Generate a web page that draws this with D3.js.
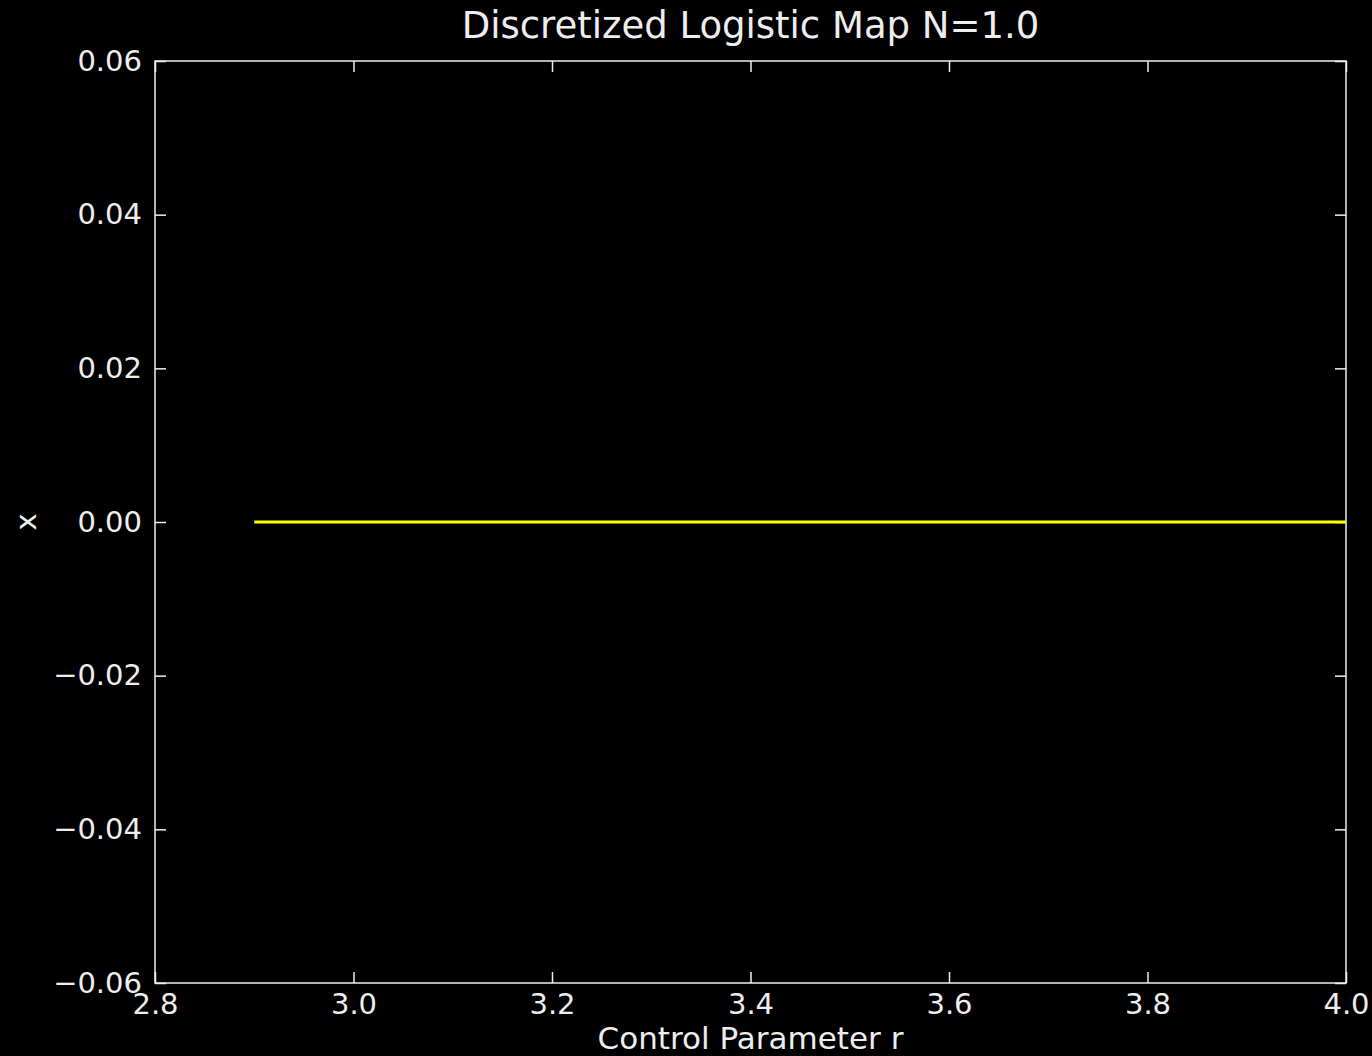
<!DOCTYPE html>
<html lang="en">
<head>
	<meta charset="UTF-8">
	<title>Discretized Logistic Map</title>
	<script type="text/javascript" src="https://d3js.org/d3.v7.min.js"></script>
	<style>
		html, body { margin: 0; padding: 0; background: #000; }
		svg { display: block; }
		text { font-family: "DejaVu Sans", sans-serif; fill: #eee; }
	</style>
</head>
<body>
	<svg></svg>

	<script type="text/javascript">
		var width = 1372;
		var height = 1056;

		// control parameter r and the settled x values (all collapse to 0)
		var rValues = [2.9, 3.0, 3.2, 3.4, 3.6, 3.8, 4.0];
		var xValues = [0, 0, 0, 0, 0, 0, 0];
		var xTicks = [2.8, 3.0, 3.2, 3.4, 3.6, 3.8, 4.0];
		var yTicks = [-0.06, -0.04, -0.02, 0.00, 0.02, 0.04, 0.06];

		var margin = {left: 155, right: 26, top: 61, bottom: 73};
		var svg = d3.select("svg").attr("width", width).attr("height", height);

		var scaleX = d3.scaleLinear().domain([2.8, 4.0]).range([margin.left, width - margin.right]);
		var scaleY = d3.scaleLinear().domain([-0.06, 0.06]).range([height - margin.bottom, margin.top]);

		function fmtY(d) {
			return d3.format(".2f")(d).replace("-", "\u2212");
		}

		// frame
		svg.append("rect")
			.attr("x", scaleX(2.8))
			.attr("y", scaleY(0.06))
			.attr("width", scaleX(4.0) - scaleX(2.8))
			.attr("height", scaleY(-0.06) - scaleY(0.06))
			.attr("fill", "none")
			.attr("stroke", "#eee")
			.attr("stroke-width", 1.5);

		var tickLen = 11;
		var axes = [
			d3.axisBottom(scaleX).tickValues(xTicks).tickFormat(d3.format(".1f")).tickSizeInner(-tickLen).tickSizeOuter(0).tickPadding(10),
			d3.axisTop(scaleX).tickValues(xTicks).tickFormat("").tickSizeInner(-tickLen).tickSizeOuter(0),
			d3.axisLeft(scaleY).tickValues(yTicks).tickFormat(fmtY).tickSizeInner(-tickLen).tickSizeOuter(0).tickPadding(13),
			d3.axisRight(scaleY).tickValues(yTicks).tickFormat("").tickSizeInner(-tickLen).tickSizeOuter(0)
		];
		var shifts = [
			"translate(0," + scaleY(-0.06) + ")",
			"translate(0," + scaleY(0.06) + ")",
			"translate(" + scaleX(2.8) + ",0)",
			"translate(" + scaleX(4.0) + ",0)"
		];
		axes.forEach(function(ax, i) {
			var g = svg.append("g").attr("transform", shifts[i]).call(ax);
			g.select(".domain").remove();
			g.selectAll(".tick line").attr("stroke", "#eee").attr("stroke-width", 1.5);
			g.selectAll(".tick text").attr("fill", "#eee").style("font-size", "29px").style("font-family", "DejaVu Sans");
		});

		// data line
		var line = d3.line()
			.x(function(d, i) { return scaleX(rValues[i]); })
			.y(function(d) { return scaleY(d); });
		svg.append("path")
			.datum(xValues)
			.attr("d", line)
			.attr("fill", "none")
			.attr("stroke", "#ffff00")
			.attr("stroke-width", 3);

		// labels
		svg.append("text")
			.attr("x", (scaleX(2.8) + scaleX(4.0)) / 2)
			.attr("y", 38)
			.attr("text-anchor", "middle")
			.style("font-size", "37px")
			.text("Discretized Logistic Map N=1.0");

		svg.append("text")
			.attr("x", (scaleX(2.8) + scaleX(4.0)) / 2)
			.attr("y", 1049)
			.attr("text-anchor", "middle")
			.style("font-size", "31px")
			.text("Control Parameter r");

		svg.append("text")
			.attr("transform", "translate(36," + scaleY(0) + ") rotate(-90)")
			.attr("text-anchor", "middle")
			.style("font-size", "29px")
			.text("x");
	</script>
</body>
</html>
